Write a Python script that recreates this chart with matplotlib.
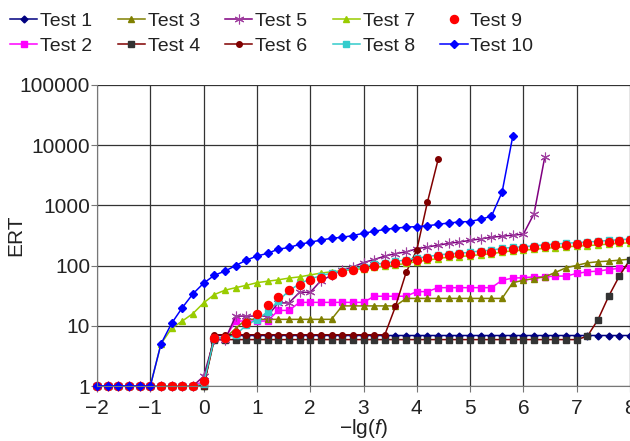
import numpy as np
import matplotlib
matplotlib.use('Agg')
import matplotlib.pyplot as plt

plt.rcParams['font.family'] = ['Liberation Sans', 'DejaVu Sans']
plt.rcParams['mathtext.fontset'] = 'custom'
plt.rcParams['mathtext.rm'] = 'Liberation Sans'
plt.rcParams['mathtext.it'] = 'Liberation Sans:italic'

# sampling grid on the x axis (-lg f), step 0.2
x = np.linspace(-2, 8, 51)

test1 = [1, 1, 1, 1, 1, 1, 1, 1, 1, 1, 1,
         6.9, 6.9, 6.9, 6.9, 6.9, 6.9, 6.9, 6.9, 6.9, 6.9, 6.9, 6.9, 6.9, 6.9,
         6.9, 6.9, 6.9, 6.9, 6.9, 6.9, 6.9, 6.9, 6.9, 6.9, 6.9, 6.9, 6.9, 6.9,
         6.9, 6.9, 6.9, 6.9, 6.9, 6.9, 6.9, 6.9, 6.9, 6.9, 6.9, 6.9]
test2 = [1, 1, 1, 1, 1, 1, 1, 1, 1, 1, 1.2,
         6.2, 6.2, 12, 12, 12, 12, 18, 18, 24.5, 24.5, 24.5, 24.5, 24.5, 24.5,
         24.5, 31, 31, 31, 31, 37, 37, 43, 43, 43, 43, 43, 43, 57, 62,
         63, 65, 65, 67, 67, 74, 79, 81, 86, 90, 92]
test3 = [1, 1, 1, 1, 1, 1, 1, 1, 1, 1, 1,
         6.2, 6.2, 9, 12.8, 12.8, 12.8, 12.8, 12.8, 12.8, 12.8, 12.8, 12.8,
         21.4, 21.4, 21.4, 21.4, 21.4, 21.4, 28.5, 28.5, 28.5, 28.5, 28.5,
         28.5, 28.5, 28.5, 28.5, 28.5, 52, 57, 61, 65, 77, 92, 101, 111, 116,
         119, 123, 128]
test4 = [1, 1, 1, 1, 1, 1, 1, 1, 1, 1, 1,
         5.9, 5.9, 5.9, 5.9, 5.9, 5.9, 5.9, 5.9, 5.9, 5.9, 5.9, 5.9, 5.9, 5.9,
         5.9, 5.9, 5.9, 5.9, 5.9, 5.9, 5.9, 5.9, 5.9, 5.9, 5.9, 5.9, 5.9, 5.9,
         5.9, 5.9, 5.9, 5.9, 5.9, 5.9, 5.9, 6.7, 12.7, 31, 67, 126]
test5 = [1, 1, 1, 1, 1, 1, 1, 1, 1, 1, 1.45,
         6, 5.8, 14.5, 14.5, 14.5, 14.5, 24, 24, 36, 36, 56, 69, 84, 95,
         112, 126, 144, 158, 169, 190, 204, 218, 234, 247, 262, 278, 295, 308,
         320, 333, 730, 6300]
test6 = [1, 1, 1, 1, 1, 1, 1, 1, 1, 1, 1,
         7.1, 7.1, 7.1, 7.1, 7.1, 7.1, 7.1, 7.1, 7.1, 7.1, 7.1, 7.1, 7.1, 7.1,
         7.1, 7.1, 7.1, 21, 77, 183, 1140, 5800]
test7 = [1, 1, 1, 1, 1, 1, 5, 9.1, 12, 16, 24,
         33, 39, 43, 47, 52, 55, 58, 62, 65, 70, 75, 79, 82, 86, 89, 93, 97,
         102, 109, 116, 123, 131, 138, 141, 146, 152, 157, 168, 176, 180, 186,
         193, 199, 205, 210, 215, 220, 228, 234, 240]
test8 = [1, 1, 1, 1, 1, 1, 1, 1, 1, 1, 1.1,
         6.2, 6.2, 7, 10.3, 12.7, 17, 26, 38, 50, 60, 68, 75, 82, 88, 96, 105,
         110, 117, 125, 133, 141, 150, 157, 161, 166, 176, 180, 193, 201, 206,
         213, 222, 228, 235, 241, 247, 253, 262, 269, 276]
test9 = [1, 1, 1, 1, 1, 1, 1, 1, 1, 1, 1.2,
         6.2, 6.3, 7.6, 11, 15.5, 22, 30, 39, 48, 57, 63, 70, 77, 84, 91, 100,
         105, 112, 120, 126, 135, 144, 150, 154, 158, 167, 171, 185, 192, 197,
         204, 212, 218, 224, 230, 236, 242, 250, 257, 264]
test10 = [1, 1, 1, 1, 1, 1, 5, 11, 20, 34, 51,
          69, 81, 100, 123, 144, 160, 187, 200, 225, 245, 265, 285, 295, 315,
          345, 370, 400, 418, 435, 445, 458, 485, 510, 530, 540, 590, 660,
          1660, 14000]

series = [
    ('Test 1', test1, dict(color='#000080', marker='D', ms=3.5, mfc='#000080', mec='#000080')),
    ('Test 2', test2, dict(color='#FF00FF', marker='s', ms=4, mfc='#FF00FF', mec='#FF00FF')),
    ('Test 3', test3, dict(color='#808000', marker='^', ms=4.5, mfc='#808000', mec='#808000')),
    ('Test 4', test4, dict(color='#800000', marker='s', ms=4.5, mfc='#333333', mec='#333333')),
    ('Test 5', test5, dict(color='#800080', marker=(6, 2, 0), ms=7, mfc='#A040A0', mec='#A040A0', mew=0.8)),
    ('Test 6', test6, dict(color='#800000', marker='o', ms=4, mfc='#800000', mec='#800000')),
    ('Test 7', test7, dict(color='#99CC00', marker='^', ms=5, mfc='#99CC00', mec='#99CC00')),
    ('Test 8', test8, dict(color='#33CCCC', marker='s', ms=4.5, mfc='#33CCCC', mec='#33CCCC')),
    ('Test 9', test9, dict(color='#FF0000', marker='o', ms=5.8, mfc='#FF0000', mec='#FF0000', ls='none')),
    ('Test 10', test10, dict(color='#0000FF', marker='D', ms=4, mfc='#0000FF', mec='#0000FF')),
]

fig = plt.figure(figsize=(6.3, 4.41), dpi=100)
ax = fig.add_axes([0.154, 0.1247, 0.846, 0.6826])

handles = []
for name, vals, style in series:
    line, = ax.plot(x[:len(vals)], vals, lw=1.1, clip_on=False, label=name, **style)
    handles.append(line)

ax.set_yscale('log')
ax.set_ylim(1, 100000)
ax.set_xlim(-2, 8)
ax.set_yticks([1, 10, 100, 1000, 10000, 100000])
ax.set_yticklabels(['1', '10', '100', '1000', '10000', '100000'])
ax.minorticks_off()
ax.set_xticks(range(-2, 9))
ax.grid(True, color='#333333', lw=0.9)
ax.set_axisbelow(True)

for s in ['top', 'right']:
    ax.spines[s].set_visible(False)
for s in ['left', 'bottom']:
    ax.spines[s].set_color('#777777')
ax.tick_params(direction='out', length=4, width=0.8, color='#777777',
               labelsize=15, pad=1, labelcolor='#222222')
ax.tick_params(axis='x', pad=5)

ax.set_ylabel('ERT', fontsize=15, color='#222222')
ax.yaxis.set_label_coords(-0.135, 0.5)
ax.set_xlabel('\u2212lg($\\mathit{f}$)', fontsize=15, color='#222222', va='top')
ax.xaxis.set_label_coords(0.5, -0.104)

fig.legend(handles=handles, loc='upper left', bbox_to_anchor=(10 / 630, 1 - 12 / 441),
           ncol=5, frameon=False, fontsize=14, handlelength=1.4, handletextpad=0.15,
           columnspacing=1.3, labelspacing=0.4, borderpad=0, borderaxespad=0,
           labelcolor='#222222')

fig.savefig('out.png', dpi=100)
